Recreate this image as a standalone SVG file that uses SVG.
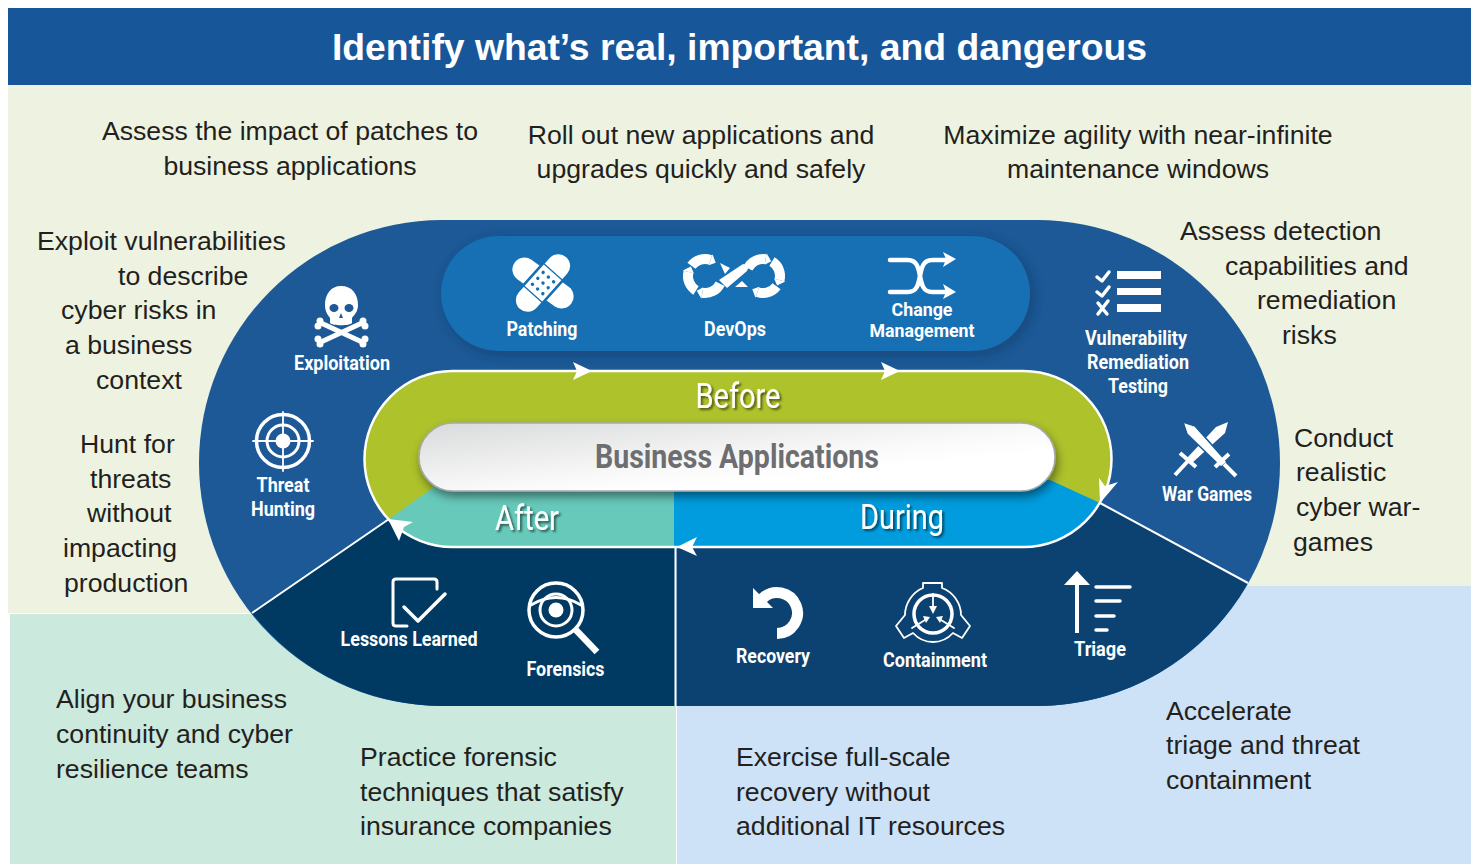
<svg xmlns="http://www.w3.org/2000/svg" width="1481" height="864" viewBox="0 0 1481 864">
<style>
.b{font-family:"Liberation Sans",Arial,sans-serif;font-size:26.650px;fill:#231F20}
.l{font-family:Roboto,"Liberation Sans",sans-serif;font-weight:700;font-size:20px;fill:#fff;text-anchor:middle}
.p{font-family:Roboto,"Liberation Sans",sans-serif;font-weight:400;font-size:35px;fill:#fff;text-anchor:middle;filter:url(#ts)}
.w{fill:#fff}
.s{fill:none;stroke:#fff;stroke-linecap:round;stroke-linejoin:round}
</style>
<defs>
<filter id="ts" x="-20%" y="-20%" width="140%" height="150%"><feDropShadow dx="2" dy="2" stdDeviation="1.2" flood-color="#000" flood-opacity=".55"/></filter>
<filter id="ps" x="-5%" y="-20%" width="110%" height="150%"><feDropShadow dx="2" dy="5" stdDeviation="5" flood-color="#000" flood-opacity=".45"/></filter>
<filter id="ps2" x="-5%" y="-10%" width="110%" height="125%"><feDropShadow dx="3" dy="3" stdDeviation="6" flood-color="#0A2F5A" flood-opacity=".5"/></filter>
<linearGradient id="wg" x1="0" y1="0" x2="1" y2="1"><stop offset="0" stop-color="#D9DADB"/><stop offset=".55" stop-color="#FAFAFA"/><stop offset=".7" stop-color="#fff"/></linearGradient>
<g id="seg"><path d="M0 -17A17 17 0 0 1 16.200 -5.300" fill="none" stroke="#fff" stroke-width="10"/><path d="M10.900 -3.600L21.900 -7.100L17 .6Z" fill="#fff"/></g>
</defs>
<rect width="1481" height="864" fill="#fff"/>
<rect x="8" y="85" width="1463" height="528" fill="#EEF3E1"/>
<rect x="10" y="614" width="666" height="250" fill="#CBE9DD"/>
<rect x="677" y="586" width="794" height="278" fill="#CDE2F6"/>
<rect x="8" y="8" width="1463" height="77" fill="#18569A"/>
<text x="739.500" y="60" text-anchor="middle" style="font-family:'Liberation Sans',Arial,sans-serif;font-weight:700;font-size:37.300px;fill:#fff">Identify what’s real, important, and dangerous</text>

<g id="stadium">
<rect x="199" y="220" width="1081" height="486" rx="243" fill="#1C5996"/>
<path d="M252 613L389 519H675V706H442A243 243 0 0 1 252 613Z" fill="#003A63"/>
<path d="M1248 583L1100 503L677 547V706H1037A243 243 0 0 0 1248 583Z" fill="#0C4271"/>
<rect x="441" y="236" width="589" height="115" rx="57.500" fill="#136FB3" filter="url(#ps2)"/>
</g>

<g id="cycle">
<rect x="364.500" y="371" width="747" height="176" rx="88" fill="#AEC22B"/>
<path d="M389 519L441 482H674V547H452A88 88 0 0 1 389 519Z" fill="#66C9BA"/>
<path d="M674 480H1050L1100 503A88 88 0 0 1 1024 547H674Z" fill="#009CDE"/>
</g>

<g id="connectors">
<rect x="364.500" y="371" width="747" height="176" rx="88" fill="none" stroke="#fff" stroke-width="2.500"/>
<path d="M389 519L252 613M1100 503L1248 583M675.500 547V706" fill="none" stroke="#fff" stroke-width="2"/>
<path class="w" d="M573 362L592 371L573 380L577 371Z"/>
<path class="w" d="M881 362L900 371L881 380L885 371Z"/>
<path class="w" d="M1118 482L1100 503L1099 478L1105 486Z"/>
<path class="w" d="M697 537L677 547L697 556L692 547Z"/>
<path class="w" d="M388 519L413 522L404 527L399 541Z"/>
</g>

<g id="business-applications">
<rect x="419" y="423" width="636" height="68" rx="34" fill="url(#wg)" stroke="#A7A9AC" stroke-width="1.500" filter="url(#ps)"/>
<text x="737" y="468" text-anchor="middle" textLength="284" lengthAdjust="spacingAndGlyphs" style="font-family:Roboto,sans-serif;font-weight:700;font-size:33px;fill:#6D6E71">Business Applications</text>
</g>
<g id="before"><text class="p" x="738" y="407.500" textLength="85" lengthAdjust="spacingAndGlyphs">Before</text></g>
<g id="after"><text class="p" x="527" y="529.500" textLength="64" lengthAdjust="spacingAndGlyphs">After</text></g>
<g id="during"><text class="p" x="902" y="529" textLength="84" lengthAdjust="spacingAndGlyphs">During</text></g>

<g id="patching">
<g transform="translate(543 283)">
<rect x="-12" y="-35" width="24" height="70" rx="12" class="w" transform="rotate(-54)"/>
<g transform="rotate(42)">
<rect x="-13" y="-36" width="26" height="72" rx="13" class="w" stroke="#136FB3" stroke-width="2.500"/>
<path d="M-13 -15H13M-13 15H13" stroke="#136FB3" stroke-width="1.300" fill="none"/>
<g fill="#136FB3"><circle cx="-7" cy="-8" r="1.700"/><circle cx="0" cy="-8" r="1.700"/><circle cx="7" cy="-8" r="1.700"/><circle cx="-7" cy="0" r="1.700"/><circle cx="0" cy="0" r="1.700"/><circle cx="7" cy="0" r="1.700"/><circle cx="-7" cy="8" r="1.700"/><circle cx="0" cy="8" r="1.700"/><circle cx="7" cy="8" r="1.700"/></g>
</g>
</g>
<text class="l" x="542" y="336" textLength="71" lengthAdjust="spacingAndGlyphs">Patching</text>
</g>

<g id="devops">
<g transform="translate(705 276)">
<use href="#seg" transform="rotate(117)"/><use href="#seg" transform="rotate(212)"/><use href="#seg" transform="rotate(307)"/>
</g>
<g transform="translate(763 276) scale(-1 -1)">
<use href="#seg" transform="rotate(117)"/><use href="#seg" transform="rotate(212)"/><use href="#seg" transform="rotate(307)"/>
</g>
<path d="M719 280L743 264L749 266L747 271L727 288Z" class="w"/>
<path d="M720 263L730 268L725 274Z" class="w"/>
<path d="M735 287L742 281L748 287Z" class="w"/>
<text class="l" x="735" y="336" textLength="62" lengthAdjust="spacingAndGlyphs">DevOps</text>
</g>

<g id="change-management">
<path class="s" stroke-width="4.500" d="M890 260H908C926 260 914 292 932 292H946M890 292H908C926 292 914 260 932 260H946"/>
<path class="w" d="M943 252L956 259L943 267L946 259Z"/>
<path class="w" d="M943 284L956 292L943 299L946 292Z"/>
<text class="l" x="922" y="315.500" textLength="61" lengthAdjust="spacingAndGlyphs" style="font-size:18.500px">Change</text>
<text class="l" x="922" y="337" textLength="105" lengthAdjust="spacingAndGlyphs" style="font-size:18.500px">Management</text>
</g>

<g id="exploitation">
<path class="w" d="M341 286C352 286 358 294 358 305C358 312 354 315 352 318V323C350 326 332 326 330 323V318C328 315 325 312 325 305C325 294 331 286 341 286Z"/>
<ellipse cx="334" cy="308" rx="4.500" ry="4" fill="#1C5996"/><ellipse cx="349" cy="308" rx="4.500" ry="4" fill="#1C5996"/>
<path d="M341 313l-2 5h4Z" fill="#1C5996"/>
<path class="s" stroke-width="5" d="M321 323L362 342M362 323L321 342"/>
<g class="w"><circle cx="320" cy="321" r="3.500"/><circle cx="318" cy="326" r="3.500"/><circle cx="363" cy="321" r="3.500"/><circle cx="365" cy="326" r="3.500"/><circle cx="320" cy="344" r="3.500"/><circle cx="318" cy="339" r="3.500"/><circle cx="363" cy="344" r="3.500"/><circle cx="365" cy="339" r="3.500"/></g>
<text class="l" x="342" y="370" textLength="96" lengthAdjust="spacingAndGlyphs">Exploitation</text>
</g>

<g id="threat-hunting">
<circle cx="283" cy="441" r="26.500" class="s" stroke-width="3.500"/>
<circle cx="283" cy="441" r="16" class="s" stroke-width="3"/>
<circle cx="283" cy="441" r="7.500" class="w"/>
<path class="s" stroke-width="1.800" d="M283 412V471M253 441H313"/>
<text class="l" x="283" y="492" textLength="53" lengthAdjust="spacingAndGlyphs">Threat</text>
<text class="l" x="283" y="516" textLength="64" lengthAdjust="spacingAndGlyphs">Hunting</text>
</g>

<g id="vulnerability">
<path class="w" d="M1117 271H1161V279H1117ZM1117 288H1161V295H1117ZM1117 304H1161V312H1117Z"/>
<path class="s" stroke-width="3.500" d="M1097 277L1102 281L1109 272M1097 292L1102 296L1109 287M1098 303L1107 314M1108 301L1098 314"/>
<text class="l" x="1136" y="345" textLength="102" lengthAdjust="spacingAndGlyphs">Vulnerability</text>
<text class="l" x="1138" y="369" textLength="102" lengthAdjust="spacingAndGlyphs">Remediation</text>
<text class="l" x="1138" y="393" textLength="60" lengthAdjust="spacingAndGlyphs">Testing</text>
</g>

<g id="war-games">
<path class="w" d="M1228 422L1225 433L1192 463L1187 458L1216 427Z"/>
<path class="w" stroke="#1C5996" stroke-width="1.500" d="M1183 422L1195 426L1227 462L1221 467L1187 434Z"/>
<path class="s" stroke-width="4" style="stroke-linecap:butt" d="M1180 453L1196 467M1229 454L1215 467M1188 461L1175 475M1224 464L1236 476"/>
<text class="l" x="1207" y="501" textLength="90" lengthAdjust="spacingAndGlyphs">War Games</text>
</g>

<g id="lessons-learned">
<path class="s" stroke-width="3" d="M437 589V582Q437 579 434 579H396Q393 579 393 582V623Q393 626 396 626H407"/>
<path class="s" stroke-width="3.500" d="M404 607L418 621L445 594"/>
<text class="l" x="409" y="646" textLength="137" lengthAdjust="spacingAndGlyphs">Lessons Learned</text>
</g>

<g id="forensics">
<circle cx="556" cy="610" r="27" class="s" stroke-width="3.500"/>
<circle cx="556" cy="610" r="16" class="s" stroke-width="3"/>
<circle cx="556" cy="610" r="7.500" class="w"/>
<path class="s" stroke-width="3" d="M531 605Q556 590 581 605"/>
<path class="s" stroke-width="6.500" style="stroke-linecap:butt" d="M575 629L597 652"/>
<text class="l" x="565.500" y="676" textLength="78" lengthAdjust="spacingAndGlyphs">Forensics</text>
</g>

<g id="recovery">
<path class="s" stroke-width="11" style="stroke-linecap:butt" d="M762.500 598.500A20.500 20.500 0 1 1 777 633.500"/>
<path class="w" d="M753 588L773 608H753Z"/>
<text class="l" x="773" y="663" textLength="74" lengthAdjust="spacingAndGlyphs">Recovery</text>
</g>

<g id="containment">
<path class="s" stroke-width="1.800" d="M923 583H942V588C953 592 961 603 961 615L970 626L962 638L953 633C942 645 924 645 913 633L904 638L896 626L905 615C905 603 913 592 923 588Z"/>
<circle cx="933" cy="614" r="19" class="s" stroke-width="3.500"/>
<path class="s" stroke-width="1.800" d="M933 594V608M912 628L925 620M954 628L941 620"/>
<path class="w" d="M929 606H937L933 614ZM923 616L930 617L926 623ZM943 616L936 617L940 623Z"/>
<text class="l" x="935" y="667" textLength="104" lengthAdjust="spacingAndGlyphs">Containment</text>
</g>

<g id="triage">
<path class="w" d="M1077 571L1090 585H1079V633H1075V585H1064Z"/>
<path class="s" stroke-width="3.500" d="M1096 587H1130M1096 601H1120M1096 616H1114M1096 630H1107"/>
<text class="l" x="1100" y="656" textLength="52" lengthAdjust="spacingAndGlyphs">Triage</text>
</g>

<g id="descriptions" transform="translate(0 -1.500)">
<text class="b" x="290" y="141" text-anchor="middle">Assess the impact of patches to</text>
<text class="b" x="290" y="176.500" text-anchor="middle">business applications</text>
<text class="b" x="701" y="145.500" text-anchor="middle">Roll out new applications and</text>
<text class="b" x="701" y="179.500" text-anchor="middle">upgrades quickly and safely</text>
<text class="b" x="1138" y="145.500" text-anchor="middle">Maximize agility with near-infinite</text>
<text class="b" x="1138" y="179.500" text-anchor="middle">maintenance windows</text>
<text class="b" x="37" y="251">Exploit vulnerabilities</text>
<text class="b" x="118" y="286">to describe</text>
<text class="b" x="61" y="320">cyber risks in</text>
<text class="b" x="65" y="355">a business</text>
<text class="b" x="96" y="390">context</text>
<text class="b" x="80" y="454">Hunt for</text>
<text class="b" x="90" y="489">threats</text>
<text class="b" x="87" y="523">without</text>
<text class="b" x="63" y="558">impacting</text>
<text class="b" x="64" y="593">production</text>
<text class="b" x="1180" y="241">Assess detection</text>
<text class="b" x="1225" y="276">capabilities and</text>
<text class="b" x="1257" y="310">remediation</text>
<text class="b" x="1282" y="345">risks</text>
<text class="b" x="1294" y="448">Conduct</text>
<text class="b" x="1296" y="482">realistic</text>
<text class="b" x="1296" y="517">cyber war-</text>
<text class="b" x="1293" y="552">games</text>
<text class="b" x="56" y="709">Align your business</text>
<text class="b" x="56" y="744">continuity and cyber</text>
<text class="b" x="56" y="779">resilience teams</text>
<text class="b" x="360" y="767">Practice forensic</text>
<text class="b" x="360" y="802">techniques that satisfy</text>
<text class="b" x="360" y="836">insurance companies</text>
<text class="b" x="736" y="767">Exercise full-scale</text>
<text class="b" x="736" y="802">recovery without</text>
<text class="b" x="736" y="836">additional IT resources</text>
<text class="b" x="1166" y="721">Accelerate</text>
<text class="b" x="1166" y="755">triage and threat</text>
<text class="b" x="1166" y="790">containment</text>
</g>
</svg>
